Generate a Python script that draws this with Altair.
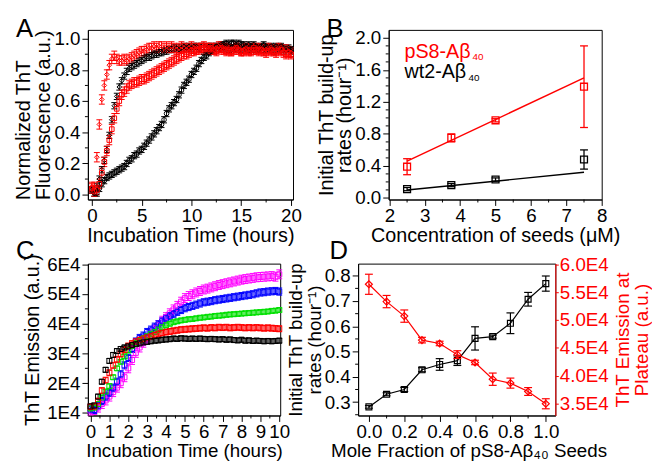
import altair as alt
import pandas as pd

FONT = "Liberation Sans"
BLACK, RED, GREEN, BLUE, MAGENTA = "#000000", "#ff0000", "#00e000", "#0000ff", "#ff00ff"
CAP = "M-1,0L1,0"

# ---------------- Panel A data (normalized ThT, every 0.25 h) ----------------
a_time = [q / 4 for q in range(81)]
a_black_slow = [0.03, 0.01, 0.01, 0.04, 0.07, 0.09, 0.11, 0.12, 0.13, 0.14, 0.15, 0.16,
                0.17, 0.18, 0.20, 0.22, 0.23, 0.25, 0.26, 0.28, 0.29, 0.31, 0.33, 0.35,
                0.37, 0.39, 0.41, 0.43, 0.45, 0.48, 0.52, 0.55, 0.57, 0.59, 0.61, 0.64,
                0.67, 0.70, 0.72, 0.74, 0.77, 0.79, 0.81, 0.84, 0.86, 0.88, 0.89, 0.91,
                0.92, 0.94, 0.95, 0.95, 0.96, 0.96, 0.97, 0.96, 0.97, 0.97, 0.96, 0.97,
                0.96, 0.96, 0.95, 0.96, 0.95, 0.96, 0.95, 0.94, 0.95, 0.96, 0.95, 0.94,
                0.95, 0.94, 0.95, 0.94, 0.95, 0.94, 0.93, 0.94, 0.93]
a_black_fast = [0.03, 0.01, 0.05, 0.10, 0.16, 0.22, 0.29, 0.38, 0.48, 0.57, 0.63, 0.69,
                0.73, 0.76, 0.79, 0.81, 0.82, 0.83, 0.84, 0.85, 0.86, 0.87, 0.88, 0.88,
                0.89, 0.90, 0.90, 0.91, 0.91, 0.92, 0.92, 0.93, 0.93, 0.94, 0.94, 0.93,
                0.94, 0.95, 0.94, 0.95, 0.94, 0.95, 0.95, 0.94, 0.95, 0.95, 0.94, 0.95,
                0.95, 0.94, 0.95, 0.94, 0.94, 0.95, 0.94, 0.93, 0.94, 0.94, 0.93, 0.94,
                0.93, 0.94, 0.94, 0.93, 0.94, 0.93, 0.93, 0.94, 0.93, 0.93, 0.94, 0.93,
                0.93, 0.92, 0.93, 0.94, 0.93, 0.92, 0.93, 0.93, 0.92]
a_red_slow = [0.04, 0.02, 0.03, 0.07, 0.14, 0.21, 0.28, 0.35, 0.42, 0.49, 0.55, 0.60,
              0.64, 0.66, 0.68, 0.70, 0.71, 0.72, 0.72, 0.73, 0.74, 0.74, 0.75, 0.76,
              0.77, 0.78, 0.79, 0.80, 0.81, 0.82, 0.83, 0.84, 0.85, 0.86, 0.87, 0.88,
              0.89, 0.90, 0.90, 0.91, 0.92, 0.92, 0.93, 0.93, 0.94, 0.93, 0.94, 0.93,
              0.94, 0.93, 0.92, 0.93, 0.94, 0.93, 0.92, 0.93, 0.92, 0.93, 0.94, 0.93,
              0.92, 0.92, 0.93, 0.92, 0.93, 0.94, 0.93, 0.92, 0.93, 0.92, 0.91, 0.92,
              0.93, 0.92, 0.91, 0.92, 0.93, 0.91, 0.90, 0.91, 0.90]
a_red_fast = [0.05, 0.05, 0.24, 0.45, 0.61, 0.70, 0.77, 0.83, 0.87, 0.89, 0.87, 0.86,
              0.86, 0.87, 0.86, 0.87, 0.88, 0.89, 0.90, 0.91, 0.92, 0.92, 0.93, 0.94,
              0.94, 0.95, 0.94, 0.95, 0.95, 0.94, 0.95, 0.94, 0.95, 0.94, 0.93, 0.94,
              0.95, 0.94, 0.93, 0.94, 0.95, 0.94, 0.93, 0.94, 0.94, 0.95, 0.94, 0.93,
              0.94, 0.93, 0.94, 0.95, 0.94, 0.93, 0.94, 0.93, 0.92, 0.93, 0.94, 0.93,
              0.92, 0.93, 0.94, 0.93, 0.92, 0.93, 0.93, 0.94, 0.93, 0.92, 0.93, 0.94,
              0.93, 0.92, 0.93, 0.94, 0.93, 0.92, 0.93, 0.92, 0.91]
a_names = ["black circles", "black diamonds", "red squares", "red diamonds"]
a_errors = [0.02, 0.02, 0.03, 0.03]

# ---------------- Panel B data ----------------
b_conc = [2.5, 3.75, 5.0, 7.5]
b_ps8_rate = [0.39, 0.75, 0.97, 1.39]
b_ps8_err = [0.10, 0.05, 0.02, 0.51]
b_wt2_rate = [0.11, 0.16, 0.23, 0.48]
b_wt2_err = [0.02, 0.02, 0.02, 0.12]
b_fit_x = [2.5, 7.5]
b_ps8_fit = [0.46, 1.50]
b_wt2_fit = [0.10, 0.32]

# ---------------- Panel C data (ThT emission in units of 1E4, every 0.2 h) ----------------
c_time = [q / 5 for q in range(51)]
c_black = [1.22, 1.25, 1.55, 2.05, 2.45, 2.75, 2.95, 3.08, 3.15, 3.20,
           3.24, 3.28, 3.31, 3.34, 3.37, 3.39, 3.41, 3.43, 3.44, 3.46,
           3.47, 3.48, 3.50, 3.49, 3.51, 3.50, 3.49, 3.50, 3.49, 3.50,
           3.49, 3.48, 3.49, 3.48, 3.47, 3.48, 3.46, 3.47, 3.45, 3.44,
           3.46, 3.43, 3.44, 3.42, 3.43, 3.42, 3.41, 3.42, 3.41, 3.42, 3.43]
c_red = [1.20, 1.22, 1.40, 1.75, 2.10, 2.35, 2.60, 2.80, 2.98, 3.12,
         3.25, 3.33, 3.40, 3.45, 3.50, 3.54, 3.58, 3.62, 3.66, 3.69,
         3.72, 3.74, 3.76, 3.78, 3.80, 3.81, 3.82, 3.83, 3.84, 3.85,
         3.86, 3.85, 3.87, 3.86, 3.88, 3.87, 3.88, 3.86, 3.87, 3.88,
         3.87, 3.86, 3.87, 3.86, 3.87, 3.86, 3.85, 3.86, 3.85, 3.84, 3.83]
c_green = [1.15, 1.18, 1.30, 1.52, 1.72, 1.90, 2.20, 2.50, 2.72, 2.90,
           3.10, 3.25, 3.35, 3.43, 3.51, 3.58, 3.65, 3.72, 3.80, 3.88,
           3.95, 4.00, 4.05, 4.08, 4.11, 4.13, 4.15, 4.16, 4.18, 4.20,
           4.21, 4.23, 4.24, 4.26, 4.27, 4.28, 4.30, 4.31, 4.32, 4.33,
           4.34, 4.35, 4.36, 4.37, 4.38, 4.39, 4.40, 4.41, 4.43, 4.44, 4.46]
c_blue = [1.12, 1.10, 1.25, 1.40, 1.55, 1.68, 1.85, 2.05, 2.30, 2.60,
          2.85, 3.15, 3.40, 3.52, 3.60, 3.72, 3.80, 3.90, 3.98, 4.08,
          4.18, 4.25, 4.32, 4.40, 4.46, 4.52, 4.56, 4.60, 4.64, 4.68,
          4.72, 4.74, 4.76, 4.79, 4.81, 4.83, 4.85, 4.87, 4.89, 4.91,
          4.93, 4.95, 4.97, 4.99, 5.02, 5.05, 5.06, 5.08, 5.09, 5.10, 5.08]
c_magenta = [1.08, 1.10, 1.18, 1.30, 1.42, 1.55, 1.70, 1.85, 2.00, 2.20,
             2.50, 2.78, 3.02, 3.20, 3.36, 3.50, 3.65, 3.80, 3.95, 4.10,
             4.22, 4.35, 4.48, 4.60, 4.74, 4.86, 4.93, 4.99, 5.05, 5.10,
             5.15, 5.18, 5.22, 5.26, 5.30, 5.33, 5.36, 5.39, 5.42, 5.45,
             5.48, 5.50, 5.52, 5.54, 5.56, 5.57, 5.58, 5.59, 5.60, 5.58, 5.66]
c_names = ["magenta", "blue", "green", "red", "black"]
c_errors = [0.15, 0.12, 0.07, 0.10, 0.08]

# ---------------- Panel D data ----------------
d_frac = [0.0, 0.1, 0.2, 0.3, 0.4, 0.5, 0.6, 0.7, 0.8, 0.9, 1.0]
d_rate = [0.281, 0.331, 0.350, 0.428, 0.449, 0.464, 0.552, 0.559, 0.612, 0.707, 0.769]
d_rate_err = [0.005, 0.006, 0.008, 0.008, 0.023, 0.019, 0.046, 0.006, 0.041, 0.027, 0.030]
d_plateau = [5.64, 5.33, 5.07, 4.64, 4.58, 4.38, 4.24, 3.94, 3.87, 3.72, 3.50]
d_plateau_err = [0.18, 0.11, 0.11, 0.05, 0.04, 0.07, 0.04, 0.11, 0.09, 0.07, 0.09]


def series_frame(xs, series, key):
    rows = []
    for name, ys, err in series:
        errs = err if isinstance(err, list) else [err] * len(ys)
        for x, y, e in zip(xs, ys, errs):
            rows.append({key: name, "x": x, "y": y, "lo": y - e, "hi": y + e})
    return pd.DataFrame(rows)


def err_layers(df, xf, yf, color, shape, size, cap, sw=1.0):
    rule = alt.Chart(df).mark_rule(strokeWidth=sw).encode(
        x=xf("x"), y=yf("lo"), y2=alt.Y2("hi"), color=color)
    lo = alt.Chart(df).mark_point(shape=CAP, size=cap * cap, filled=False, strokeWidth=sw,
                                  opacity=1).encode(x=xf("x"), y=yf("lo"), color=color)
    hi = alt.Chart(df).mark_point(shape=CAP, size=cap * cap, filled=False, strokeWidth=sw,
                                  opacity=1).encode(x=xf("x"), y=yf("hi"), color=color)
    pts = alt.Chart(df).mark_point(filled=False, size=size, strokeWidth=sw, opacity=1).encode(
        x=xf("x"), y=yf("y"), color=color, shape=shape)
    return [rule, lo, hi, pts]


def minor_y(vals, yf, x0, x1, color=BLACK):
    return alt.Chart(pd.DataFrame({"y": vals})).mark_rule(strokeWidth=1, color=color).encode(
        y=yf("y"), x=alt.value(x0), x2=alt.value(x1))


def minor_x(vals, xf, h):
    return alt.Chart(pd.DataFrame({"x": vals})).mark_rule(strokeWidth=1, color=BLACK).encode(
        x=xf("x"), y=alt.value(h), y2=alt.value(h + 3))


def label(text, dx, dy, size=26, color=BLACK):
    return alt.Chart(pd.DataFrame({"L": [text]})).mark_text(
        font=FONT, fontSize=size, align="left", baseline="alphabetic", color=color).encode(
        text="L:N", x=alt.value(dx), y=alt.value(dy))


XTITLE_Y = 27

# ================= Panel A =================
WA, HA = 208, 172
xsA = alt.Scale(domain=[-0.4, 20.2], nice=False, zero=False)
ysA = alt.Scale(domain=[-0.031, 1.056], nice=False, zero=False)
xaA = alt.Axis(values=[0, 5, 10, 15, 20], format="d", title="Incubation Time (hours)",
               titleY=XTITLE_Y, labelPadding=1)
yaA = alt.Axis(values=[0, 0.2, 0.4, 0.6, 0.8, 1.0], format=".1f",
               title=["Normalized ThT", "Fluorescence (a.u.)"], titleAnchor="start",
               titlePadding=1, titleLineHeight=20)
xfA = lambda f: alt.X(f"{f}:Q", scale=xsA, axis=xaA)
yfA = lambda f: alt.Y(f"{f}:Q", scale=ysA, axis=yaA)
dfA = series_frame(a_time, [(a_names[0], a_black_slow, a_errors[0]),
                            (a_names[1], a_black_fast, a_errors[1]),
                            (a_names[2], a_red_slow, a_errors[2]),
                            (a_names[3], a_red_fast, a_errors[3])], "sA")
colA = alt.Color("sA:N", scale=alt.Scale(domain=a_names, range=[BLACK, BLACK, RED, RED]), legend=None)
shpA = alt.Shape("sA:N", scale=alt.Scale(domain=a_names, range=["circle", "diamond", "square", "diamond"]),
                 legend=None)
panelA = alt.layer(
    *err_layers(dfA, xfA, yfA, colA, shpA, 22, 6),
    minor_y([0.1, 0.3, 0.5, 0.7, 0.9], yfA, 0, -3),
    minor_x([2.5, 7.5, 12.5, 17.5], xfA, HA),
    label("A", -73, 7),
).properties(width=WA, height=HA)

# ================= Panel B =================
WB, HB = 216, 172
xsB = alt.Scale(domain=[1.98, 8.0], nice=False, zero=False)
ysB = alt.Scale(domain=[-0.02, 2.1], nice=False, zero=False)
xaB = alt.Axis(values=[2, 3, 4, 5, 6, 7, 8], format="d", title="Concentration of seeds (\u03bcM)",
               titleY=XTITLE_Y, labelPadding=1)
yaB = alt.Axis(values=[0, 0.4, 0.8, 1.2, 1.6, 2.0], format=".1f",
               title=["Initial ThT build-up", "rates (hour\u207b\u00b9)"], titlePadding=0,
               titleLineHeight=19)
xfB = lambda f: alt.X(f"{f}:Q", scale=xsB, axis=xaB)
yfB = lambda f: alt.Y(f"{f}:Q", scale=ysB, axis=yaB)
b_names = ["wt2", "pS8"]
dfB = series_frame(b_conc, [("wt2", b_wt2_rate, b_wt2_err), ("pS8", b_ps8_rate, b_ps8_err)], "sB")
dfBfit = pd.DataFrame({"x": b_fit_x * 2, "y": b_wt2_fit + b_ps8_fit,
                       "sB": ["wt2"] * 2 + ["pS8"] * 2})
colB = alt.Color("sB:N", scale=alt.Scale(domain=b_names, range=[BLACK, RED]), legend=None)
shpB = alt.Shape("sB:N", scale=alt.Scale(domain=b_names, range=["square", "square"]), legend=None)
fitB = alt.Chart(dfBfit).mark_line(strokeWidth=1.5).encode(x=xfB("x"), y=yfB("y"), color=colB)
panelB = alt.layer(
    fitB,
    *err_layers(dfB, xfB, yfB, colB, shpB, 49, 8, sw=1.3),
    minor_y([0.2, 0.6, 1.0, 1.4, 1.8, 0.1, 0.3, 0.5, 0.7, 0.9, 1.1, 1.3, 1.5, 1.7, 1.9], yfB, 0, -3),
    minor_x([2.5, 3.5, 4.5, 5.5, 6.5, 7.5], xfB, HB),
    label("pS8-A\u03b2", 16, 28, 20, RED),
    label("40", 85, 31, 10, RED),
    label("wt2-A\u03b2", 16, 49, 20, BLACK),
    label("40", 81, 52, 10, BLACK),
    label("B", -63, 7),
).properties(width=WB, height=HB)

# ================= Panel C =================
WC, HC = 195, 154
xsC = alt.Scale(domain=[-0.14, 10.05], nice=False, zero=False)
ysC = alt.Scale(domain=[0.914, 6.02], nice=False, zero=False)
xaC = alt.Axis(values=list(range(11)), format="d", title="Incubation Time (hours)",
               titleY=XTITLE_Y, labelPadding=1, titleFontSize=19)
yaC = alt.Axis(values=[1, 2, 3, 4, 5, 6], labelExpr="datum.value + 'E4'",
               title="ThT Emission (a.u.)", titlePadding=4)
xfC = lambda f: alt.X(f"{f}:Q", scale=xsC, axis=xaC)
yfC = lambda f: alt.Y(f"{f}:Q", scale=ysC, axis=yaC)
dfC = series_frame(c_time, [("magenta", c_magenta, c_errors[0]), ("blue", c_blue, c_errors[1]),
                            ("green", c_green, c_errors[2]), ("red", c_red, c_errors[3]),
                            ("black", c_black, c_errors[4])], "sC")
colC = alt.Color("sC:N", scale=alt.Scale(domain=c_names, range=[MAGENTA, BLUE, GREEN, RED, BLACK]),
                 legend=None)
shpC = alt.Shape("sC:N", scale=alt.Scale(domain=c_names, range=["square"] * 5), legend=None)
panelC = alt.layer(
    *err_layers(dfC, xfC, yfC, colC, shpC, 26, 6),
    minor_y([1.5, 2.5, 3.5, 4.5, 5.5], yfC, 0, -3),
    minor_x([0.5, 1.5, 2.5, 3.5, 4.5, 5.5, 6.5, 7.5, 8.5, 9.5], xfC, HC),
    label("C", -73, -5),
).properties(width=WC, height=HC)

# ================= Panel D =================
WD, HD = 200, 154
xsD = alt.Scale(domain=[-0.061, 1.054], nice=False, zero=False)
ysDl = alt.Scale(domain=[0.247, 0.848], nice=False, zero=False)
ysDr = alt.Scale(domain=[3.29, 6.01], nice=False, zero=False)
xaD = alt.Axis(values=[0, 0.2, 0.4, 0.6, 0.8, 1.0], format=".1f",
               title="Mole Fraction of pS8-A\u03b2\u2084\u2080 Seeds", titleY=XTITLE_Y, labelPadding=1,
               titleFontSize=19, titleX=112)
yaDl = alt.Axis(values=[0.3, 0.4, 0.5, 0.6, 0.7, 0.8], format=".1f", orient="left",
                title=["Initial ThT build-up", "rates (hour\u207b\u00b9)"], titlePadding=0,
                titleLineHeight=19, titleFontSize=19)
yaDr = alt.Axis(values=[3.5, 4.0, 4.5, 5.0, 5.5, 6.0], labelExpr="format(datum.value, '.1f') + 'E4'",
                orient="right", title=["ThT Emission at", "Plateau (a.u.)"], titleAngle=270,
                titleBaseline="top", titleX=59, titleLineHeight=19, titleFontSize=19,
                tickSize=3, labelPadding=1,
                labelColor=RED, titleColor=RED, tickColor=RED, domainColor=RED)
xfD = lambda f: alt.X(f"{f}:Q", scale=xsD, axis=xaD)
yfDl = lambda f: alt.Y(f"{f}:Q", scale=ysDl, axis=yaDl)
yfDr = lambda f: alt.Y(f"{f}:Q", scale=ysDr, axis=yaDr)
dfDl = series_frame(d_frac, [("rate", d_rate, d_rate_err)], "sD")
dfDr = series_frame(d_frac, [("plateau", d_plateau, d_plateau_err)], "sD")
blackD = alt.layer(
    alt.Chart(dfDl).mark_line(color=BLACK, strokeWidth=1.2).encode(x=xfD("x"), y=yfDl("y")),
    *err_layers(dfDl, xfD, yfDl, alt.value(BLACK), alt.value("square"), 36, 8, sw=1.2),
    minor_y([0.25, 0.35, 0.45, 0.55, 0.65, 0.75], yfDl, 0, -3),
    minor_x([0.1, 0.3, 0.5, 0.7, 0.9], xfD, HD),
)
redD = alt.layer(
    alt.Chart(dfDr).mark_line(color=RED, strokeWidth=1.2).encode(x=xfD("x"), y=yfDr("y")),
    *err_layers(dfDr, xfD, yfDr, alt.value(RED), alt.value("diamond"), 50, 8, sw=1.2),
)
panelD = alt.layer(blackD, redD, label("D", -29, -5)).resolve_scale(y="independent").properties(
    width=WD, height=HD)

row1 = alt.hconcat(panelA, panelB, spacing=97, bounds="flush").resolve_scale(
    color="independent", shape="independent")
row2 = alt.hconcat(panelC, panelD, spacing=79, bounds="flush").resolve_scale(
    color="independent", shape="independent")
chart = alt.vconcat(row1, row2, spacing=237, bounds="flush").resolve_scale(
    color="independent", shape="independent").properties(
    padding={"left": 5, "top": 4, "right": 0, "bottom": 0}, background="white")
chart = chart.configure_view(stroke=BLACK, strokeWidth=1).configure_axis(
    labelFont=FONT, labelFontSize=19, titleFont=FONT, titleFontSize=20, titleFontWeight="normal",
    labelColor=BLACK, titleColor=BLACK, tickColor=BLACK, domainColor=BLACK, grid=False,
    tickSize=6, labelPadding=2, labelFlush=False, labelOverlap=False, domainWidth=1, tickWidth=1)

chart.save("out.html", embed_options={"renderer": "svg", "actions": False})
